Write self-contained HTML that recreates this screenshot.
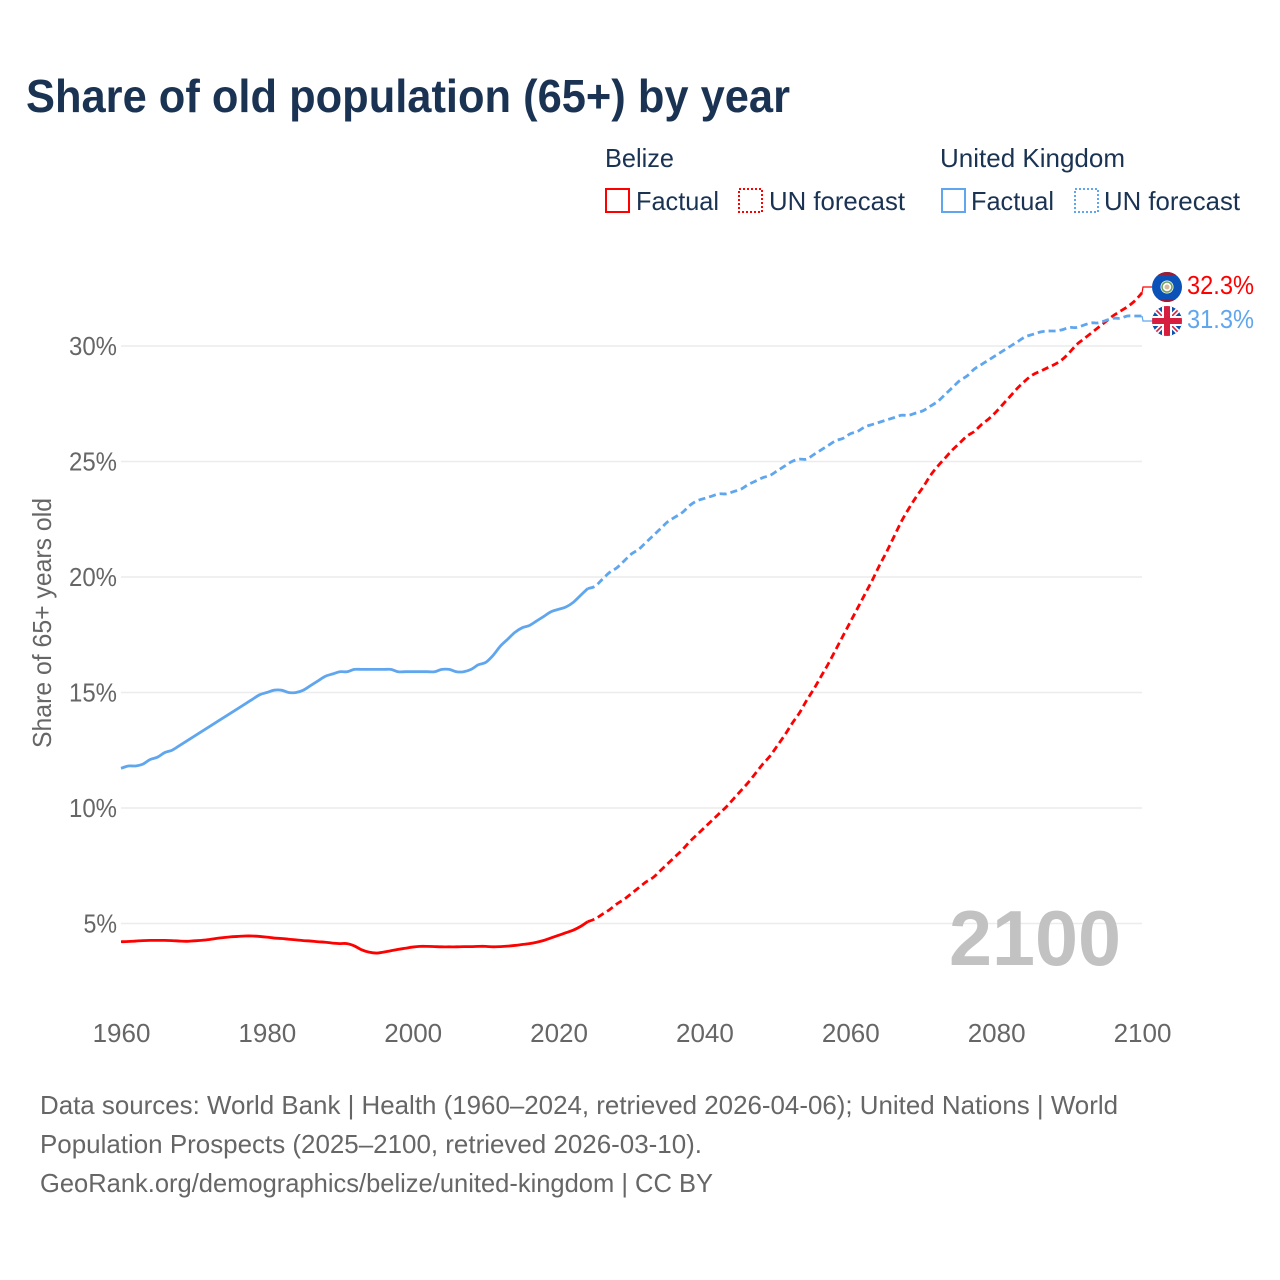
<!DOCTYPE html>
<html lang="en">
<head>
<meta charset="utf-8">
<title>Share of old population (65+) by year</title>
<style>
  html,body{margin:0;padding:0;background:#fff;}
  svg{display:block;}
  text{font-family:"Liberation Sans",sans-serif;}
</style>
</head>
<body>
<svg id="chart" xmlns="http://www.w3.org/2000/svg" width="1280" height="1280" viewBox="0 0 1280 1280">
  <defs>
    <clipPath id="clip-bz"><circle cx="1167" cy="287" r="15"/></clipPath>
    <clipPath id="clip-uk"><circle cx="1167" cy="321" r="15"/></clipPath>
  </defs>
  <rect x="0" y="0" width="1280" height="1280" fill="#ffffff"/>

  <text x="26" y="112" font-size="46" font-weight="700" fill="#1a3353" textLength="764" lengthAdjust="spacingAndGlyphs">Share of old population (65+) by year</text>

  <g font-size="26" fill="#1a3353">
    <text x="605" y="167" textLength="69" lengthAdjust="spacingAndGlyphs">Belize</text>
    <text x="940" y="167" textLength="185" lengthAdjust="spacingAndGlyphs">United Kingdom</text>

    <g>
      <rect x="606" y="189" width="23" height="23" fill="none" stroke="#ff0000" stroke-width="2"/>
      <text x="636" y="210" textLength="83" lengthAdjust="spacingAndGlyphs">Factual</text>
    </g>
    <g>
      <rect x="739" y="189" width="23" height="23" fill="none" stroke="#ff0000" stroke-width="2" stroke-dasharray="2 2"/>
      <text x="769" y="210" textLength="136" lengthAdjust="spacingAndGlyphs">UN forecast</text>
    </g>
    <g>
      <rect x="942" y="189" width="23" height="23" fill="none" stroke="#5fa6ee" stroke-width="2"/>
      <text x="971" y="210" textLength="83" lengthAdjust="spacingAndGlyphs">Factual</text>
    </g>
    <g>
      <rect x="1075" y="189" width="23" height="23" fill="none" stroke="#5fa6ee" stroke-width="2" stroke-dasharray="2 2"/>
      <text x="1104" y="210" textLength="136" lengthAdjust="spacingAndGlyphs">UN forecast</text>
    </g>
  </g>

  <g id="grid"></g>
  <g id="yticks"></g>
  <g id="xticks"></g>

  <text transform="translate(51 623) rotate(-90)" text-anchor="middle" font-size="26" fill="#666666" textLength="250" lengthAdjust="spacingAndGlyphs">Share of 65+ years old</text>

  <text x="949" y="965" font-size="78" font-weight="700" fill="#c2c2c2" textLength="172" lengthAdjust="spacingAndGlyphs">2100</text>

  <g id="series"></g>

  <g clip-path="url(#clip-bz)">
    <rect x="1152" y="272" width="30" height="30" fill="#0a52b8"/>
    <rect x="1152" y="272" width="30" height="3" fill="#9e1b34"/>
    <rect x="1152" y="299" width="30" height="3" fill="#9e1b34"/>
    <circle cx="1167" cy="287" r="6.5" fill="#ffffff"/>
    <circle cx="1167" cy="287" r="5" fill="none" stroke="#6fa35a" stroke-width="1.6"/>
    <circle cx="1167" cy="287" r="2.5" fill="#d9b7a0"/>
  </g>
  <g clip-path="url(#clip-uk)">
    <rect x="1152" y="306" width="30" height="30" fill="#0b52ad"/>
    <path d="M1152 306L1182 336M1182 306L1152 336" stroke="#ffffff" stroke-width="5"/>
    <path d="M1152 306L1182 336M1182 306L1152 336" stroke="#d81e3f" stroke-width="1.6"/>
    <rect x="1162" y="306" width="10" height="30" fill="#ffffff"/>
    <rect x="1152" y="316" width="30" height="10" fill="#ffffff"/>
    <rect x="1164" y="306" width="6" height="30" fill="#d81e3f"/>
    <rect x="1152" y="318" width="30" height="6" fill="#d81e3f"/>
  </g>

  <text id="label-bz" x="1187" y="294" font-size="26" fill="#ff0000" textLength="67" lengthAdjust="spacingAndGlyphs"></text>
  <text id="label-uk" x="1187" y="328" font-size="26" fill="#5fa6ee" textLength="67" lengthAdjust="spacingAndGlyphs"></text>

  <g font-size="26" fill="#666666">
    <text x="40" y="1114" textLength="1078" lengthAdjust="spacingAndGlyphs">Data sources: World Bank | Health (1960–2024, retrieved 2026-04-06); United Nations | World</text>
    <text x="40" y="1153" textLength="662" lengthAdjust="spacingAndGlyphs">Population Prospects (2025–2100, retrieved 2026-03-10).</text>
    <text x="40" y="1192" textLength="673" lengthAdjust="spacingAndGlyphs">GeoRank.org/demographics/belize/united-kingdom | CC BY</text>
  </g>
</svg>

<script>
const factualStartYear = 1960;
const forecastStartYear = 2024;
const xTickYears = [1960, 1980, 2000, 2020, 2040, 2060, 2080, 2100];
const yTickValues = [5, 10, 15, 20, 25, 30];

const belizeFactual = [
  4.21,4.22,4.24,4.26,4.27,4.27,4.27,4.26,4.24,4.23,
  4.25,4.27,4.30,4.35,4.39,4.42,4.44,4.46,4.46,4.44,
  4.41,4.37,4.35,4.32,4.29,4.26,4.24,4.21,4.19,4.15,
  4.13,4.13,4.03,3.86,3.76,3.72,3.76,3.82,3.88,3.93,
  3.98,4.01,4.01,4.00,3.99,3.99,3.99,4.00,4.00,4.01,
  4.01,3.99,4.00,4.02,4.05,4.09,4.13,4.19,4.27,4.38,
  4.49,4.60,4.71,4.87,5.08
];
const belizeForecast = [
  5.08,5.2,5.4,5.6,5.85,6.05,6.3,6.55,6.8,7.0,7.3,7.6,7.9,8.2,8.55,8.85,
  9.15,9.45,9.75,10.05,10.4,10.75,11.1,11.5,11.9,12.25,
  12.7,13.15,13.65,14.1,14.65,15.15,15.7,16.25,16.85,17.45,
  18.05,18.65,19.25,19.85,20.5,21.1,21.75,22.4,22.95,23.45,
  23.9,24.4,24.8,25.15,25.5,25.8,26.1,26.3,26.6,26.85,
  27.15,27.5,27.85,28.2,28.5,28.75,28.9,29.05,29.2,29.4,
  29.7,30.05,30.3,30.55,30.8,31.05,31.3,31.5,31.7,31.95,32.3
];
const ukFactual = [
  11.72,11.82,11.82,11.9,12.1,12.2,12.4,12.5,12.7,12.9,
  13.1,13.3,13.5,13.7,13.9,14.1,14.3,14.5,14.7,14.9,
  15.0,15.1,15.1,15.0,15.0,15.1,15.3,15.5,15.7,15.8,
  15.9,15.9,16.0,16.0,16.0,16.0,16.0,16.0,15.9,15.9,
  15.9,15.9,15.9,15.9,16.0,16.0,15.9,15.9,16.0,16.2,
  16.3,16.6,17.0,17.3,17.6,17.8,17.9,18.1,18.3,18.5,
  18.6,18.7,18.9,19.2,19.5
];
const ukForecast = [
  19.5,19.6,19.9,20.2,20.4,20.7,21.0,21.2,21.5,21.8,22.1,22.4,22.6,22.8,23.1,23.3,
  23.4,23.5,23.6,23.6,23.7,23.8,24.0,24.15,24.3,24.4,
  24.6,24.8,25.0,25.1,25.1,25.3,25.5,25.7,25.9,26.0,
  26.2,26.3,26.5,26.6,26.7,26.8,26.9,27.0,27.0,27.1,
  27.2,27.4,27.6,27.9,28.2,28.5,28.7,29.0,29.2,29.4,
  29.6,29.8,30.0,30.2,30.4,30.5,30.6,30.65,30.65,30.7,
  30.8,30.8,30.9,31.0,31.0,31.1,31.2,31.2,31.3,31.3,31.3
];

const NS = 'http://www.w3.org/2000/svg';
const xScale = year => 121 + (year - 1960) * (1142 - 121) / 140;
const yScale = value => 923.5 - (value - 5) * 23.1;
const gridLayer = document.getElementById('grid');
const yTickLayer = document.getElementById('yticks');
const xTickLayer = document.getElementById('xticks');
const seriesLayer = document.getElementById('series');

yTickValues.forEach(value => {
  const line = document.createElementNS(NS, 'line');
  
  
  line.setAttribute('x1', 121);
  line.setAttribute('x2', 1142);
  line.setAttribute('y1', yScale(value));
  line.setAttribute('y2', yScale(value));
  line.setAttribute('stroke', '#ececec');
  line.setAttribute('stroke-width', 1.5);
  gridLayer.appendChild(line);

  const label = document.createElementNS(NS, 'text');
  
  
  const str = value + '%';
  label.setAttribute('x', 117 - (14.5 * (str.length - 1) + 19));
  label.setAttribute('y', yScale(value) + 9);
  label.setAttribute('font-size', 26);
  label.setAttribute('fill', '#666666');
  label.setAttribute('textLength', 14.5 * (str.length - 1) + 19);
  label.setAttribute('lengthAdjust', 'spacingAndGlyphs');
  label.textContent = str;
  yTickLayer.appendChild(label);
});

xTickYears.forEach(year => {
  const label = document.createElementNS(NS, 'text');
  
  
  label.setAttribute('x', xScale(year) + 0.5);
  label.setAttribute('y', 1042);
  label.setAttribute('font-size', 26);
  label.setAttribute('fill', '#666666');
  label.setAttribute('text-anchor', 'middle');
  label.textContent = year;
  xTickLayer.appendChild(label);
});

function curveFor(values, startYear) {
  const p = values.map((v, i) => [xScale(startYear + i), yScale(v)]);
  let d = 'M' + p[0][0].toFixed(2) + ' ' + p[0][1].toFixed(2);
  for (let i = 0; i < p.length - 1; i++) {
    const a = p[Math.max(i - 1, 0)];
    const b = p[i];
    const c = p[i + 1];
    const e = p[Math.min(i + 2, p.length - 1)];
    const c1x = b[0] + (c[0] - a[0]) / 6;
    const c1y = b[1] + (c[1] - a[1]) / 6;
    const c2x = c[0] - (e[0] - b[0]) / 6;
    const c2y = c[1] - (e[1] - b[1]) / 6;
    d += 'C' + c1x.toFixed(2) + ' ' + c1y.toFixed(2) + ' ' + c2x.toFixed(2) + ' ' + c2y.toFixed(2) + ' ' + c[0].toFixed(2) + ' ' + c[1].toFixed(2);
  }
  return d;
}

function lastOf(values) {
  return values[values.length - 1];
}

const belizeFactualLine = document.createElementNS(NS, 'path');


belizeFactualLine.setAttribute('d', curveFor(belizeFactual, factualStartYear));
belizeFactualLine.setAttribute('fill', 'none');
belizeFactualLine.setAttribute('stroke', '#ff0000');
belizeFactualLine.setAttribute('stroke-width', 2.8);
belizeFactualLine.setAttribute('stroke-linejoin', 'round');

const belizeForecastLine = document.createElementNS(NS, 'path');


belizeForecastLine.setAttribute('d', curveFor(belizeForecast, forecastStartYear));
belizeForecastLine.setAttribute('fill', 'none');
belizeForecastLine.setAttribute('stroke', '#ff0000');
belizeForecastLine.setAttribute('stroke-width', 2.8);
belizeForecastLine.setAttribute('stroke-dasharray', '7 4');

const ukFactualLine = document.createElementNS(NS, 'path');


ukFactualLine.setAttribute('d', curveFor(ukFactual, factualStartYear));
ukFactualLine.setAttribute('fill', 'none');
ukFactualLine.setAttribute('stroke', '#5fa6ee');
ukFactualLine.setAttribute('stroke-width', 2.8);
ukFactualLine.setAttribute('stroke-linejoin', 'round');

const ukForecastLine = document.createElementNS(NS, 'path');


ukForecastLine.setAttribute('d', curveFor(ukForecast, forecastStartYear));
ukForecastLine.setAttribute('fill', 'none');
ukForecastLine.setAttribute('stroke', '#5fa6ee');
ukForecastLine.setAttribute('stroke-width', 2.8);
ukForecastLine.setAttribute('stroke-dasharray', '7 4');

const belizeConnector = document.createElementNS(NS, 'polyline');


belizeConnector.setAttribute('points', xScale(2100) + ',' + yScale(lastOf(belizeForecast)) + ' 1143,287 1152,287');
belizeConnector.setAttribute('fill', 'none');
belizeConnector.setAttribute('stroke', '#ff0000');
belizeConnector.setAttribute('stroke-width', 1.2);

const ukConnector = document.createElementNS(NS, 'polyline');


ukConnector.setAttribute('points', xScale(2100) + ',' + yScale(lastOf(ukForecast)) + ' 1143,321 1152,321');
ukConnector.setAttribute('fill', 'none');
ukConnector.setAttribute('stroke', '#5fa6ee');
ukConnector.setAttribute('stroke-width', 1.2);

seriesLayer.appendChild(ukConnector);
seriesLayer.appendChild(belizeConnector);
seriesLayer.appendChild(belizeFactualLine);
seriesLayer.appendChild(belizeForecastLine);
seriesLayer.appendChild(ukFactualLine);
seriesLayer.appendChild(ukForecastLine);

document.getElementById('label-bz').textContent = lastOf(belizeForecast).toFixed(1) + '%';
document.getElementById('label-uk').textContent = lastOf(ukForecast).toFixed(1) + '%';
</script>
</body>
</html>
